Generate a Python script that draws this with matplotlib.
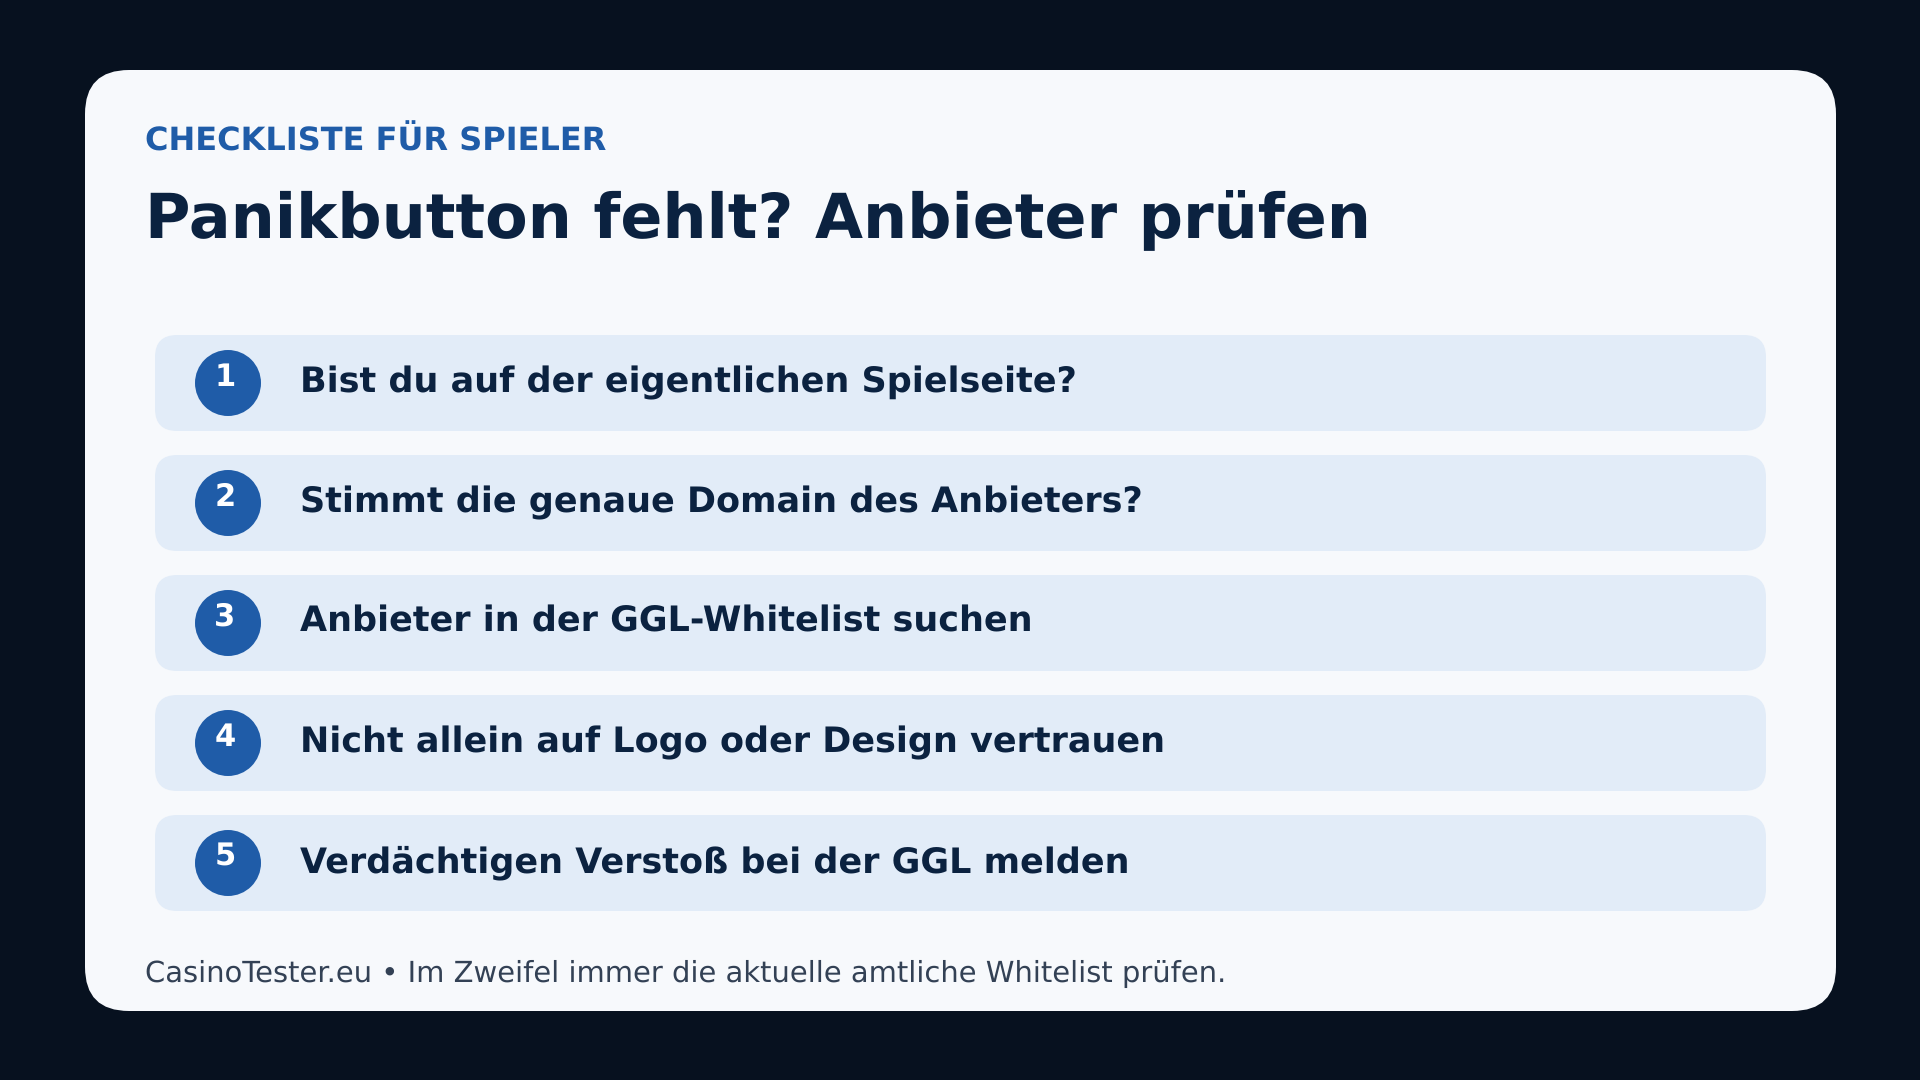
import matplotlib
matplotlib.use("Agg")
import matplotlib.pyplot as plt
from matplotlib.patches import FancyBboxPatch, Circle

plt.rcParams['text.hinting'] = 'no_hinting'

# texts
eyebrow = "CHECKLISTE FÜR SPIELER"
title = "Panikbutton fehlt? Anbieter prüfen"
numbers = ["1", "2", "3", "4", "5"]
items = [
    "Bist du auf der eigentlichen Spielseite?",
    "Stimmt die genaue Domain des Anbieters?",
    "Anbieter in der GGL-Whitelist suchen",
    "Nicht allein auf Logo oder Design vertrauen",
    "Verdächtigen Verstoß bei der GGL melden",
]
footer = "CasinoTester.eu • Im Zweifel immer die aktuelle amtliche Whitelist prüfen."

# colours
bg_col = "#07111f"
card_col = "#f7f9fc"
row_col = "#e2ecf8"
blue = "#1f5ca8"
dark = "#0b2240"
grey = "#334155"


def round_box(ax, x0, y0, x1, y1, r, col):
    # rounded rectangle in pixel coordinates
    box = FancyBboxPatch((x0 + r, y0 + r), x1 - x0 - 2 * r, y1 - y0 - 2 * r,
                         boxstyle=f"round,pad={r},rounding_size={r}",
                         fc=col, ec="none")
    ax.add_patch(box)


fig = plt.figure(figsize=(19.2, 10.8), dpi=100, facecolor=bg_col)
ax = fig.add_axes([0, 0, 1, 1])
ax.set_xlim(0, 1920)
ax.set_ylim(1080, 0)
ax.axis("off")

round_box(ax, 85, 70, 1836, 1011, 44, card_col)

ax.text(145, 151, eyebrow, fontsize=23.05, fontweight="bold", color=blue, va="baseline")
ax.text(145, 238, title, fontsize=44.65, fontweight="bold", color=dark, va="baseline")

for i, (num, item) in enumerate(zip(numbers, items)):
    top = 335 + i * 120
    round_box(ax, 155, top, 1766, top + 96, 22, row_col)
    ax.add_patch(Circle((228, top + 48), 33, fc=blue, ec="none"))
    ax.text(225, top + 51, num, fontsize=22, fontweight="bold", color="white",
            ha="center", va="baseline")
    ax.text(300, top + 57, item, fontsize=25.2, fontweight="bold", color=dark, va="baseline")

ax.text(145, 982, footer, fontsize=20.85, color=grey, va="baseline")

fig.savefig("out.png", dpi=100, facecolor=bg_col)
